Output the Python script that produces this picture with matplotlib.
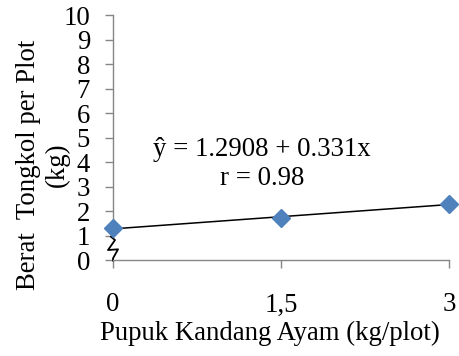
import numpy as np
import matplotlib
matplotlib.use("Agg")
import matplotlib.pyplot as plt

# Data
x_vals = [0, 1.5, 3]
y_vals = [1.32, 1.73, 2.31]
x_tick_pos = [0, 1.5, 3]
x_tick_labels = ["0", "1,5", "3"]
y_ticks = list(range(0, 11))
intercept = 1.2908
slope = 0.331
eq_text = "ŷ = 1.2908 + 0.331x\nr = 0.98"
x_label = "Pupuk Kandang Ayam (kg/plot)"
y_label = "Berat  Tongkol per Plot\n(kg)"

plt.rcParams['font.family'] = ['Liberation Serif', 'DejaVu Serif']
FS = 19.3
AX_COL = '#868686'

fig = plt.figure(figsize=(4.59, 3.56), dpi=100)
ax = fig.add_axes([0.2462, 0.2683, 0.7320, 0.6882])
ax.set_xlim(0, 3)
ax.set_ylim(0, 10)

# regression line
xl = np.array([x_vals[0], x_vals[-1]])
ax.plot(xl, intercept + slope * xl, color='black', lw=1.1, zorder=3, clip_on=False)
# points
ax.plot(x_vals, y_vals, linestyle='none', marker='D', markersize=9.6,
        color='#4F81BD', markeredgecolor='#4F81BD', zorder=4, clip_on=False)

for s in ['top', 'right']:
    ax.spines[s].set_visible(False)
for s in ['left', 'bottom']:
    ax.spines[s].set_color(AX_COL)
    ax.spines[s].set_linewidth(1.0)
ax.spines['left'].set_bounds(0.97, 10)

ax.set_xticks(x_tick_pos)
ax.set_xticklabels(x_tick_labels)
ax.set_yticks(y_ticks)
ax.tick_params(axis='x', direction='out', length=6, width=1.0, color=AX_COL,
               pad=17, labelsize=FS)
ax.tick_params(axis='y', direction='out', length=6, width=1.0, color=AX_COL,
               pad=10.5, labelsize=FS)

ax.set_xlabel(x_label, fontsize=FS)
ax.xaxis.set_label_coords(0.467, -0.247)
ax.set_ylabel(y_label, fontsize=FS, linespacing=1.18)
ax.yaxis.set_label_coords(-0.128, 0.39)

ax.text(1.33, 3.09, eq_text, fontsize=FS, ha='center', va='baseline',
        multialignment='center', linespacing=1.2)

# axis break zigzag (pixel offsets around the axis)
fig.canvas.draw()
x0_px, ytop_px = ax.transData.transform((0, 0.97))
_, ybot_px = ax.transData.transform((0, 0))
span = ytop_px - ybot_px
offs = [(-2, 1.0), (2, 0.86), (-5, 0.44), (5, 0.47), (0, 0.09), (0, 0.0)]
pts = [(x0_px + dx, ybot_px + f * span) for dx, f in offs]
dpts = ax.transData.inverted().transform(pts)
ax.plot(dpts[:, 0], dpts[:, 1], color='black', lw=1.3, clip_on=False, zorder=2)

fig.savefig("out.png", dpi=100)
